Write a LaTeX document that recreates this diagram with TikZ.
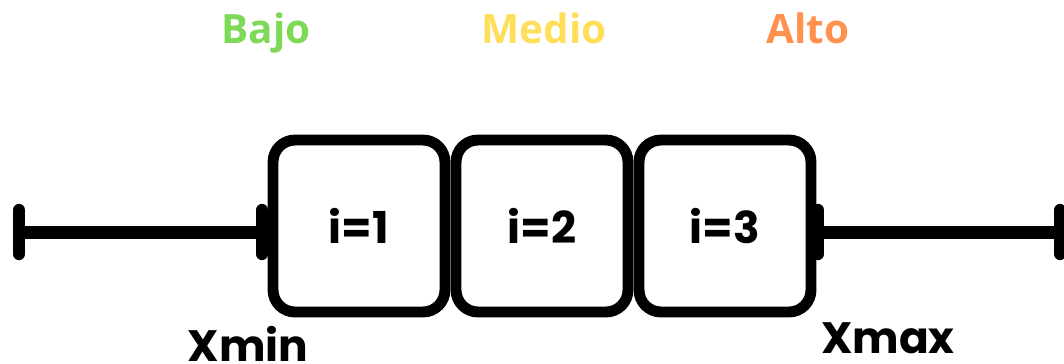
\documentclass[tikz,border=0pt]{standalone}
\usepackage{fontspec}
\setmainfont{Poppins}
\newfontfamily\opensans{Open Sans}
\usepackage{tikz}
\usetikzlibrary{arrows.meta}
\usetikzlibrary{positioning}

\definecolor{bajo}{HTML}{7ED957}
\definecolor{medio}{HTML}{FFDE59}
\definecolor{alto}{HTML}{FF914D}

\tikzset{
	caja/.style={draw, fill=white, line width=6.2pt, rounded corners=0.44cm,
		minimum width=3.44cm, minimum height=3.44cm, inner sep=0pt,
		font=\fontsize{25}{30}\selectfont\bfseries},
	bigote/.style={line width=7.4pt},
	tope/.style={line width=7pt, line cap=round},
	nivel/.style={anchor=base, inner sep=0pt, font=\opensans\fontsize{23}{27}\selectfont\bfseries},
	extremo/.style={anchor=base, inner sep=0pt, font=\fontsize{25}{30}\selectfont\bfseries}
}

\begin{document}
\begin{tikzpicture}[x=0.02cm, y=-0.02cm]
	\useasboundingbox (0,0) rectangle (1064,363);

	% whiskers
	\coordinate (xmin) at (19,232);
	\coordinate (q1) at (262,232);
	\coordinate (q3) at (818,232);
	\coordinate (xmax) at (1060,232);
	\draw[bigote] (xmin) -- (q1);
	\draw[bigote] (q3) -- (xmax);
	\foreach \p in {xmin, q1, q3, xmax}
		\draw[tope] ([yshift=0.44cm]\p) -- ([yshift=-0.44cm]\p);

	% boxes
	\node[caja] (b1) at (359,226) {i=1};
	\node[caja] (b2) at (542,226) {i=2};
	\node[caja] (b3) at (725,226) {i=3};

	% labels
	\node[nivel, text=bajo] (lbajo) at (266,43) {Bajo};
	\node[nivel, text=medio] (lmedio) at (544,43) {Medio};
	\node[nivel, text=alto] (lalto) at (808,43) {Alto};
	\node[extremo] (lmin) at (248,361) {Xmin};
	\node[extremo] (lmax) at (888,353) {Xmax};
\end{tikzpicture}
\end{document}
